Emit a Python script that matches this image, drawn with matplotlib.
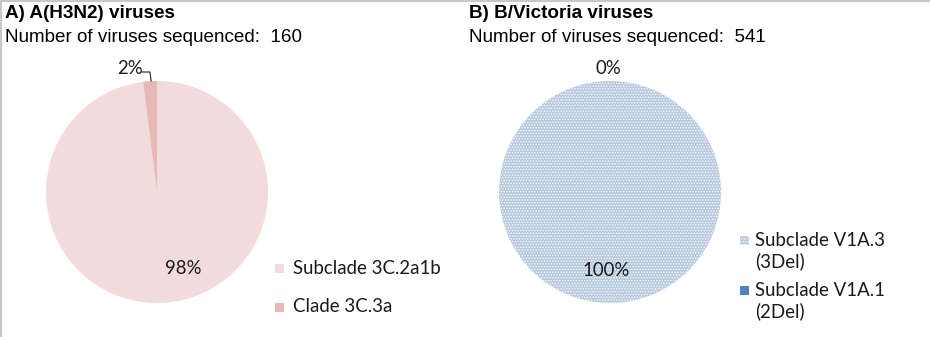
import matplotlib
matplotlib.use("Agg")
import matplotlib.pyplot as plt
from matplotlib.lines import Line2D

W, H = 930, 337
DPI = 100

# Data
a_title = "A) A(H3N2) viruses"
a_count = "Number of viruses sequenced:  160"
a_labels = ["Subclade 3C.2a1b", "Clade 3C.3a"]
a_values = [98, 2]
a_colors = ["#f2dcdb", "#e6b9b8"]

b_title = "B) B/Victoria viruses"
b_count = "Number of viruses sequenced:  541"
b_labels = ["Subclade V1A.3\n(3Del)", "Subclade V1A.1\n(2Del)"]
b_values = [100, 0]
b_colors = ["#b9cadf", "#4f81bd"]

plt.rcParams['hatch.linewidth'] = 0.6

fig = plt.figure(figsize=(W / DPI, H / DPI), dpi=DPI)
fig.patch.set_facecolor("white")

def px_axes(cx, cy, r):
    return fig.add_axes([(cx - r) / W, (H - cy - r) / H, 2 * r / W, 2 * r / H])

TFONT = ["Liberation Sans", "DejaVu Sans"]
LFONT = ["Lato", "DejaVu Sans"]
TSIZE = 13.6
LSIZE = 13.4
TXT = "#1a1a1a"

# ---- Pie A
axA = px_axes(157, 192, 111)
wa, _ = axA.pie(a_values, colors=a_colors, startangle=90, counterclock=False,
                radius=1, wedgeprops=dict(linewidth=0))
axA.set_xlim(-1, 1); axA.set_ylim(-1, 1)
axA.set_aspect("equal")
axA.axis("off")
axA.text(0.234, -0.685, f"{a_values[0]}%", ha="center", va="center",
         fontsize=LSIZE, family=LFONT, color=TXT)
axA.text(-0.24, 1.117, f"{a_values[1]}%", ha="center", va="center",
         fontsize=LSIZE, family=LFONT, color=TXT, clip_on=False)
axA.add_line(Line2D([-0.135, -0.063, -0.054], [1.081, 1.081, 1.0],
                    color="#333333", lw=0.9, clip_on=False))

# ---- Pie B
axB = px_axes(610, 192, 111)
wb, _ = axB.pie(b_values, colors=b_colors, startangle=90, counterclock=False,
                radius=1, wedgeprops=dict(linewidth=0))
wb[0].set_hatch("......")
wb[0].set_edgecolor("white")
axB.set_xlim(-1, 1); axB.set_ylim(-1, 1)
axB.set_aspect("equal")
axB.axis("off")
axB.text(-0.036, -0.703, f"{b_values[0]}%", ha="center", va="center",
         fontsize=LSIZE, family=LFONT, color=TXT)
axB.text(-0.018, 1.117, f"{b_values[1]}%", ha="center", va="center",
         fontsize=LSIZE, family=LFONT, color=TXT, clip_on=False)

# ---- Titles
fig.text(5 / W, 1 - 13 / H, a_title, fontsize=TSIZE, fontweight="bold",
         family=TFONT, va="center", ha="left")
fig.text(5 / W, 1 - 37 / H, a_count, fontsize=TSIZE, family=TFONT,
         va="center", ha="left")
fig.text(469 / W, 1 - 13 / H, b_title, fontsize=TSIZE, fontweight="bold",
         family=TFONT, va="center", ha="left")
fig.text(469 / W, 1 - 37 / H, b_count, fontsize=TSIZE, family=TFONT,
         va="center", ha="left")

# ---- Legends (manual)
def legend_item(x, y, color, label, hatch=None, text_dx=18, multiline=False):
    sq = 9
    p = plt.Rectangle((x / W, 1 - (y + sq / 2) / H), sq / W, sq / H,
                      transform=fig.transFigure, facecolor=color,
                      edgecolor="white" if hatch else "none", lw=0,
                      hatch=hatch)
    fig.patches.append(p)
    ty = y + 11 if multiline else y
    fig.text((x + text_dx) / W, 1 - ty / H, label, fontsize=LSIZE, family=LFONT,
             va="center", ha="left", color=TXT, linespacing=1.2)

legend_item(275, 268, a_colors[0], a_labels[0])
legend_item(275, 307, a_colors[1], a_labels[1])
legend_item(740, 240, b_colors[0], b_labels[0], hatch="......", text_dx=15, multiline=True)
legend_item(740, 290, b_colors[1], b_labels[1], hatch=".", text_dx=15, multiline=True)

# thin frame lines at top and left
fig.add_artist(Line2D([0, 1], [1 - 0.5 / H, 1 - 0.5 / H], transform=fig.transFigure,
                      color="#c8c8c8", lw=1.5))
fig.add_artist(Line2D([0.5 / W, 0.5 / W], [0, 1], transform=fig.transFigure,
                      color="#c8c8c8", lw=1.5))

fig.savefig("out.png", dpi=DPI, facecolor="white")
